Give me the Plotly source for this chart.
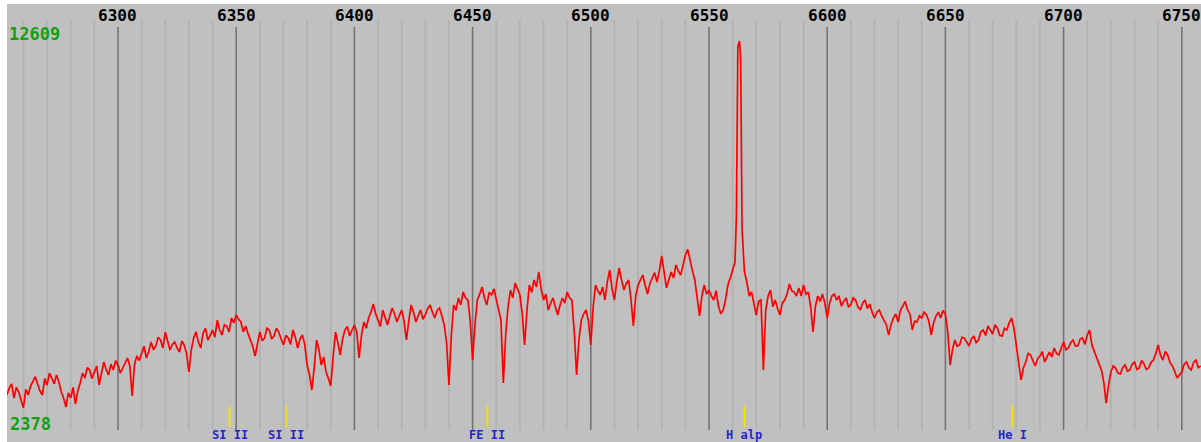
import plotly.graph_objects as go

# ---- data ----
wavelength = [
    6253, 6254, 6255, 6256, 6257, 6258, 6259, 6260, 6261, 6262,
    6263, 6264, 6265, 6266, 6267, 6268, 6269, 6270, 6271, 6272,
    6273, 6274, 6275, 6276, 6277, 6278, 6279, 6280, 6281, 6282,
    6283, 6284, 6285, 6286, 6287, 6288, 6289, 6290, 6291, 6292,
    6293, 6294, 6295, 6296, 6297, 6298, 6299, 6300, 6301, 6302,
    6303, 6304, 6305, 6306, 6307, 6308, 6309, 6310, 6311, 6312,
    6313, 6314, 6315, 6316, 6317, 6318, 6319, 6320, 6321, 6322,
    6323, 6324, 6325, 6326, 6327, 6328, 6329, 6330, 6331, 6332,
    6333, 6334, 6335, 6336, 6337, 6338, 6339, 6340, 6341, 6342,
    6343, 6344, 6345, 6346, 6347, 6348, 6349, 6350, 6351, 6352,
    6353, 6354, 6355, 6356, 6357, 6358, 6359, 6360, 6361, 6362,
    6363, 6364, 6365, 6366, 6367, 6368, 6369, 6370, 6371, 6372,
    6373, 6374, 6375, 6376, 6377, 6378, 6379, 6380, 6381, 6382,
    6383, 6384, 6385, 6386, 6387, 6388, 6389, 6390, 6391, 6392,
    6393, 6394, 6395, 6396, 6397, 6398, 6399, 6400, 6401, 6402,
    6403, 6404, 6405, 6406, 6407, 6408, 6409, 6410, 6411, 6412,
    6413, 6414, 6415, 6416, 6417, 6418, 6419, 6420, 6421, 6422,
    6423, 6424, 6425, 6426, 6427, 6428, 6429, 6430, 6431, 6432,
    6433, 6434, 6435, 6436, 6437, 6438, 6439, 6440, 6441, 6442,
    6443, 6444, 6445, 6446, 6447, 6448, 6449, 6450, 6451, 6452,
    6453, 6454, 6455, 6456, 6457, 6458, 6459, 6460, 6461, 6462,
    6463, 6464, 6465, 6466, 6467, 6468, 6469, 6470, 6471, 6472,
    6473, 6474, 6475, 6476, 6477, 6478, 6479, 6480, 6481, 6482,
    6483, 6484, 6485, 6486, 6487, 6488, 6489, 6490, 6491, 6492,
    6493, 6494, 6495, 6496, 6497, 6498, 6499, 6500, 6501, 6502,
    6503, 6504, 6505, 6506, 6507, 6508, 6509, 6510, 6511, 6512,
    6513, 6514, 6515, 6516, 6517, 6518, 6519, 6520, 6521, 6522,
    6523, 6524, 6525, 6526, 6527, 6528, 6529, 6530, 6531, 6532,
    6533, 6534, 6535, 6536, 6537, 6538, 6539, 6540, 6541, 6542,
    6543, 6544, 6545, 6546, 6547, 6548, 6549, 6550, 6551, 6552,
    6553, 6554, 6555, 6556, 6557, 6558, 6559, 6560,
    6561, 6561.6, 6562.2, 6562.9, 6563.4, 6564, 6565,
    6566, 6567, 6568, 6569, 6570, 6571, 6572, 6573, 6574, 6575,
    6576, 6577, 6578, 6579, 6580, 6581, 6582, 6583, 6584, 6585,
    6586, 6587, 6588, 6589, 6590, 6591, 6592, 6593, 6594, 6595,
    6596, 6597, 6598, 6599, 6600, 6601, 6602, 6603, 6604, 6605,
    6606, 6607, 6608, 6609, 6610, 6611, 6612, 6613, 6614, 6615,
    6616, 6617, 6618, 6619, 6620, 6621, 6622, 6623, 6624, 6625,
    6626, 6627, 6628, 6629, 6630, 6631, 6632, 6633, 6634, 6635,
    6636, 6637, 6638, 6639, 6640, 6641, 6642, 6643, 6644, 6645,
    6646, 6647, 6648, 6649, 6650, 6651, 6652, 6653, 6654, 6655,
    6656, 6657, 6658, 6659, 6660, 6661, 6662, 6663, 6664, 6665,
    6666, 6667, 6668, 6669, 6670, 6671, 6672, 6673, 6674, 6675,
    6676, 6677, 6678, 6679, 6680, 6681, 6682, 6683, 6684, 6685,
    6686, 6687, 6688, 6689, 6690, 6691, 6692, 6693, 6694, 6695,
    6696, 6697, 6698, 6699, 6700, 6701, 6702, 6703, 6704, 6705,
    6706, 6707, 6708, 6709, 6710, 6711, 6712, 6713, 6714, 6715,
    6716, 6717, 6718, 6719, 6720, 6721, 6722, 6723, 6724, 6725,
    6726, 6727, 6728, 6729, 6730, 6731, 6732, 6733, 6734, 6735,
    6736, 6737, 6738, 6739, 6740, 6741, 6742, 6743, 6744, 6745,
    6746, 6747, 6748, 6749, 6750, 6751, 6752, 6753, 6754, 6755,
    6756, 6757, 6758,
]
flux = [
    2739, 2935, 3050, 2656, 2950, 2823, 2600, 2378, 2900, 2739,
    2980, 3102, 3250, 3046, 2850, 2739, 3200, 3018, 3350, 3213,
    3050, 3297, 3100, 2823, 2650, 2405, 2800, 2656, 2950, 2488,
    2850, 3074, 3350, 3213, 3500, 3436, 3200, 3381, 3550, 3018,
    3300, 3659, 3450, 3297, 3600, 3436, 3700, 3576, 3350, 3492,
    3650, 3771, 3550, 2712, 3600, 3827, 3700, 3938, 4100, 3771,
    3950, 4217, 4000, 4106, 4350, 4273, 4050, 4496, 4250, 3994,
    4150, 4217, 4050, 3938, 4250, 4133, 3900, 3381, 4000, 4329,
    4500, 4217, 4050, 4468, 4600, 4273, 4400, 4552, 4350, 4830,
    4550, 4412, 4700, 4663, 4500, 4886, 4750, 4970, 4850, 4775,
    4500, 4663, 4450, 4273, 4100, 3827, 4200, 4496, 4250, 4329,
    4600, 4552, 4300, 4384, 4600, 4496, 4300, 4133, 4400, 4329,
    4150, 4552, 4350, 4050, 4300, 4412, 4150, 3576, 3300, 2879,
    3500, 4273, 4000, 3576, 3800, 3381, 3200, 2990, 3800, 4496,
    4200, 3855, 4300, 4552, 4650, 4384, 4550, 4691, 4500, 3771,
    4400, 4775, 4600, 4886, 5050, 5276, 5000, 4830, 4650, 5109,
    4900, 4691, 4950, 5165, 5000, 4775, 4950, 5109, 4800, 4273,
    4800, 5249, 5050, 4775, 4950, 5109, 4850, 4970, 5150, 5249,
    5050, 4886, 5100, 5165, 4950, 4691, 4200, 3018, 4400, 5249,
    5100, 5444, 5250, 5611, 5450, 5388, 4800, 3715, 4700, 5388,
    5550, 5750, 5450, 5249, 5600, 5527, 5700, 5388, 5150, 4830,
    3074, 4412, 5200, 5667, 5450, 5862, 5700, 5527, 5000, 4133,
    5100, 5806, 5600, 5946, 5750, 6169, 5700, 5388, 5550, 5109,
    5300, 5444, 5200, 4970, 5250, 5444, 5300, 5611, 5450, 5388,
    4500, 3297, 4300, 4830, 5000, 5109, 4800, 4133, 5200, 5806,
    5650, 5527, 5750, 5388, 5900, 6224, 5700, 5388, 5900, 6280,
    5950, 5667, 5850, 5946, 5400, 4663, 5500, 5806, 5950, 6085,
    5800, 5555, 5850, 6001, 6150, 5890, 6200, 6615, 6100, 5723,
    5950, 6169, 6000, 6364, 6200, 6085, 6350, 6643, 6800, 6447,
    6200, 5946, 5500, 4942, 5500, 5806, 5550, 5667, 5500, 5388,
    5650, 5221, 5000, 5109, 5400, 5806, 6000, 6224,
    6447, 7758, 12442, 12609, 12107, 7340, 6169,
    5890, 5500, 5611, 5300, 4970, 5350, 5388, 3436, 5109, 5500,
    5667, 5200, 5388, 5150, 4970, 5300, 5388, 5550, 5834, 5650,
    5611, 5500, 5723, 5500, 5806, 5550, 5611, 5200, 4496, 5200,
    5500, 5350, 5555, 5300, 4886, 5300, 5500, 5550, 5388, 5500,
    5221, 5350, 5444, 5200, 5249, 5450, 5388, 5200, 5109, 5300,
    5388, 5150, 5276, 5050, 4886, 5050, 5109, 4950, 4830, 4700,
    4412, 4700, 4886, 5000, 4775, 5100, 5221, 5350, 5109, 5000,
    4552, 4800, 4775, 4950, 4886, 5050, 4970, 4800, 4412, 4750,
    4942, 5050, 4886, 5100, 4998, 4500, 3576, 4000, 4273, 4100,
    4133, 4350, 4329, 4200, 4106, 4300, 4384, 4200, 4273, 4500,
    4552, 4400, 4663, 4550, 4440, 4700, 4607, 4400, 4384, 4600,
    4552, 4750, 4886, 4600, 4133, 3700, 3158, 3500, 3659, 3900,
    3855, 3700, 3548, 3750, 3827, 3950, 3659, 3800, 3938, 3800,
    4050, 3900, 3855, 4050, 4217, 4000, 4050, 4200, 4273, 4100,
    4106, 4300, 4329, 4150, 4412, 4550, 4133, 3950, 3771, 3600,
    3436, 3100, 2516, 3000, 3381, 3550, 3492, 3350, 3325, 3500,
    3576, 3400, 3436, 3600, 3659, 3450, 3492, 3700, 3604, 3450,
    3492, 3650, 3715, 3900, 4133, 3850, 3715, 3950, 3855, 3650,
    3548, 3400, 3213, 3300, 3381, 3600, 3659, 3500, 3436, 3650,
    3715, 3500, 3548,
]

tick_values = [6300, 6350, 6400, 6450, 6500, 6550, 6600, 6650, 6700, 6750]
tick_labels = ["6300", "6350", "6400", "6450", "6500", "6550", "6600", "6650", "6700", "6750"]

line_names = ["SI II", "SI II", "FE II", "H alp", "He I"]
line_wavelengths = [6347.2, 6371.2, 6456.2, 6565.0, 6678.2]

flux_max_label = "12609"
flux_min_label = "2378"

# ---- layout constants ----
W, H = 1201, 442
ML, MR, MT, MB = 7, 0, 20, 12
PH = H - MT - MB  # plot height in px
X_RANGE = [6253.05, 6758.12]
Y_RANGE = [1764, 13194]
MINOR_STEP = 10


def py(pix):
    """pixel row -> paper y"""
    return (H - MB - pix) / PH


def px(pix):
    return (pix - ML) / (W - ML - MR)


fig = go.Figure()
fig.add_trace(go.Scatter(
    x=wavelength, y=flux, mode="lines",
    line=dict(color="#ff0000", width=1.7),
    hoverinfo="skip", showlegend=False,
))

shapes = []
# minor grid lines (every 10 A, skipping the major ones)
minor_positions = [w for w in range(6260, 6760, MINOR_STEP) if w not in tick_values]
for w in minor_positions:
    shapes.append(dict(type="line", xref="x", yref="paper", x0=w, x1=w, y0=0, y1=1,
                       line=dict(color="#b3b3b3", width=2), layer="below"))
# major grid lines
for t in tick_values:
    shapes.append(dict(type="line", xref="x", yref="paper", x0=t, x1=t, y0=0, y1=py(27),
                       line=dict(color="#747474", width=1.6), layer="below"))
# line-identification markers
for lw in line_wavelengths:
    shapes.append(dict(type="line", xref="x", yref="paper", x0=lw, x1=lw, y0=py(427), y1=py(406),
                       line=dict(color="#f2e400", width=2), layer="below"))
# white page strips (left & top)
shapes.append(dict(type="rect", xref="paper", yref="paper", x0=px(-5), x1=px(ML), y0=py(H + 5),
                   y1=py(-5), fillcolor="#ffffff", line=dict(width=0), layer="above"))
shapes.append(dict(type="rect", xref="paper", yref="paper", x0=px(-5), x1=px(W + 5), y0=py(4),
                   y1=py(-5), fillcolor="#ffffff", line=dict(width=0), layer="above"))

annotations = []
for t, lab in zip(tick_values, tick_labels):
    annotations.append(dict(x=t, xref="x", y=py(15.5), yref="paper", text=lab, showarrow=False,
                            xanchor="center", yanchor="middle",
                            font=dict(family="DejaVu Sans Mono", size=16, color="#000000",
                                      weight="bold")))
for lw, name in zip(line_wavelengths, line_names):
    annotations.append(dict(x=lw, xref="x", y=py(434.5), yref="paper", text=name, showarrow=False,
                            xanchor="center", yanchor="middle",
                            font=dict(family="DejaVu Sans Mono", size=12, color="#2626c8",
                                      weight="bold")))
annotations.append(dict(x=px(7), xref="paper", y=py(34), yref="paper", text=flux_max_label,
                        showarrow=False, xanchor="left", yanchor="middle",
                        font=dict(family="DejaVu Sans Mono", size=17, color="#12a012", weight="bold")))
annotations.append(dict(x=px(8), xref="paper", y=py(424), yref="paper", text=flux_min_label,
                        showarrow=False, xanchor="left", yanchor="middle",
                        font=dict(family="DejaVu Sans Mono", size=17, color="#12a012", weight="bold")))

fig.update_layout(
    width=W, height=H,
    margin=dict(l=ML, r=MR, t=MT, b=MB, pad=0),
    paper_bgcolor="#c0c0c0", plot_bgcolor="#c0c0c0",
    showlegend=False, hovermode=False,
    shapes=shapes, annotations=annotations,
    xaxis=dict(range=X_RANGE, showgrid=False, zeroline=False, showline=False,
               showticklabels=False, ticks="", tickvals=tick_values),
    yaxis=dict(range=Y_RANGE, showgrid=False, zeroline=False, showline=False,
               showticklabels=False, ticks=""),
)

fig.write_html("out.html", config={"displayModeBar": False})
